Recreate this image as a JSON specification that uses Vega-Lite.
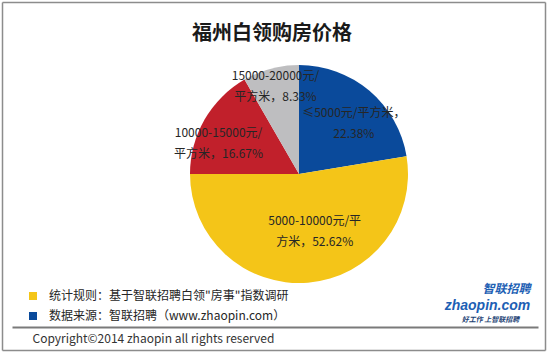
{
  "$schema": "https://vega.github.io/schema/vega-lite/v6.json",
  "width": 492,
  "height": 344,
  "autosize": {"type": "none"},
  "padding": {"left": 53, "top": 2, "right": 5, "bottom": 8},
  "background": "white",
  "config": {"view": {"stroke": null}, "font": "Noto Sans CJK SC"},
  "title": {"text": "福州白领购房价格", "fontSize": 20, "fontWeight": "bold", "font": "Noto Sans CJK SC", "color": "#1a1a1a", "anchor": "middle", "offset": -42, "dx": -27},
  "datasets": {
    "pie": [
      {"range": "≤5000元/平方米", "pct": 22.38, "seq": 1, "label": "≤5000元/平方米，\n22.38%"},
      {"range": "5000-10000元/平方米", "pct": 52.62, "seq": 2, "label": "5000-10000元/平\n方米，52.62%"},
      {"range": "10000-15000元/平方米", "pct": 16.67, "seq": 3, "label": "10000-15000元/\n平方米，16.67%"},
      {"range": "15000-20000元/平方米", "pct": 8.33, "seq": 4, "label": "15000-20000元/\n平方米，8.33%"}
    ],
    "notes": [
      {"note": "统计规则：基于智联招聘白领\"房事\"指数调研"},
      {"note": "数据来源：智联招聘（www.zhaopin.com）"}
    ]
  },
  "layer": [
    {
      "data": {"name": "pie"},
      "mark": {"type": "arc", "outerRadius": 109},
      "encoding": {
        "theta": {"field": "pct", "type": "quantitative", "stack": true},
        "order": {"field": "seq", "type": "quantitative"},
        "color": {"field": "range", "type": "nominal",
          "scale": {"domain": ["≤5000元/平方米", "5000-10000元/平方米", "10000-15000元/平方米", "15000-20000元/平方米"], "range": ["#0A4A9B", "#F4C518", "#C1202B", "#BEBEC0"]},
          "legend": null}
      }
    },
    {
      "data": {"name": "pie"},
      "mark": {"type": "text", "radius": 74, "dx": 7, "dy": -5, "lineBreak": "\n", "lineHeight": 21, "fontSize": 12, "font": "Noto Sans CJK SC", "color": "#262626", "align": "center", "baseline": "middle"},
      "encoding": {
        "theta": {"field": "pct", "type": "quantitative", "stack": true},
        "order": {"field": "seq", "type": "quantitative"},
        "text": {"condition": {"test": "datum.seq === 1", "field": "label", "type": "nominal"}, "value": ""}
      }
    },
    {
      "data": {"name": "pie"},
      "mark": {"type": "text", "radius": 57, "dx": 11, "dy": -10, "lineBreak": "\n", "lineHeight": 21, "fontSize": 12, "font": "Noto Sans CJK SC", "color": "#262626", "align": "center", "baseline": "middle"},
      "encoding": {
        "theta": {"field": "pct", "type": "quantitative", "stack": true},
        "order": {"field": "seq", "type": "quantitative"},
        "text": {"condition": {"test": "datum.seq === 2", "field": "label", "type": "nominal"}, "value": ""}
      }
    },
    {
      "data": {"name": "pie"},
      "mark": {"type": "text", "radius": 86, "dx": -6, "dy": 2, "lineBreak": "\n", "lineHeight": 21, "fontSize": 12, "font": "Noto Sans CJK SC", "color": "#262626", "align": "center", "baseline": "middle"},
      "encoding": {
        "theta": {"field": "pct", "type": "quantitative", "stack": true},
        "order": {"field": "seq", "type": "quantitative"},
        "text": {"condition": {"test": "datum.seq === 3", "field": "label", "type": "nominal"}, "value": ""}
      }
    },
    {
      "data": {"name": "pie"},
      "mark": {"type": "text", "radius": 91, "dx": 0, "dy": -10, "lineBreak": "\n", "lineHeight": 21, "fontSize": 12, "font": "Noto Sans CJK SC", "color": "#262626", "align": "center", "baseline": "middle"},
      "encoding": {
        "theta": {"field": "pct", "type": "quantitative", "stack": true},
        "order": {"field": "seq", "type": "quantitative"},
        "text": {"condition": {"test": "datum.seq === 4", "field": "label", "type": "nominal"}, "value": ""}
      }
    },
    {
      "data": {"name": "pie"},
      "mark": {"type": "text", "text": ""},
      "encoding": {
        "x": {"field": "pct", "type": "quantitative", "scale": {"domain": [0, 100], "range": [-51, 492]},
          "axis": {"orient": "bottom", "offset": 4, "ticks": false, "labels": false, "grid": false, "domainColor": "#8c8c8c", "domainWidth": 1.5, "title": null}},
        "y": {"field": "pct", "type": "quantitative", "scale": {"domain": [0, 100], "range": [348, 0]},
          "axis": {"orient": "left", "offset": 51, "ticks": false, "labels": false, "grid": false, "domainColor": "#8c8c8c", "domainWidth": 1.5,
            "title": "好工作  上智联招聘", "titleX": 488, "titleY": 317, "titleAngle": 0, "titleAlign": "center", "titleBaseline": "middle", "titleFontSize": 7, "titleFontWeight": "bold", "titleFontStyle": "italic", "titleColor": "#1d3f74", "titleFont": "Noto Sans CJK SC"}}
      }
    },
    {
      "data": {"name": "pie"},
      "mark": {"type": "text", "text": ""},
      "encoding": {
        "x": {"field": "pct", "type": "quantitative", "scale": {"domain": [0, 100], "range": [-51, 492]},
          "axis": {"orient": "top", "offset": 0, "ticks": false, "labels": false, "grid": false, "domainColor": "#8c8c8c", "domainWidth": 1.5,
            "title": "zhaopin.com", "titleX": 434, "titleY": 303, "titleAngle": 0, "titleAlign": "center", "titleBaseline": "middle", "titleFontSize": 14, "titleFontWeight": "bold", "titleFontStyle": "italic", "titleColor": "#1d5fb4", "titleFont": "Liberation Sans"}},
        "y": {"field": "pct", "type": "quantitative", "scale": {"domain": [0, 100], "range": [348, 0]},
          "axis": {"orient": "right", "offset": 0, "ticks": false, "labels": false, "grid": false, "domainColor": "#8c8c8c", "domainWidth": 1.5,
            "title": "智联招聘", "titleX": -39, "titleY": 286, "titleAngle": 0, "titleAlign": "center", "titleBaseline": "middle", "titleFontSize": 12, "titleFontWeight": "bold", "titleFontStyle": "italic", "titleColor": "#1d5fb4", "titleFont": "Noto Sans CJK SC"}}
      }
    },
    {
      "data": {"name": "pie"},
      "mark": {"type": "text", "text": ""},
      "encoding": {
        "x": {"field": "pct", "type": "quantitative", "scale": {"domain": [0, 100], "range": [-41, 485]},
          "axis": {"orient": "bottom", "offset": -19, "ticks": false, "labels": false, "grid": false, "domainColor": "#7a7a7a", "domainWidth": 2,
            "title": "Copyright©2014 zhaopin all rights reserved", "titleX": -21, "titleY": 11, "titleAlign": "left", "titleBaseline": "middle", "titleFontSize": 12, "titleFontWeight": "normal", "titleColor": "#333333", "titleFont": "Noto Sans CJK SC"}}
      }
    },
    {
      "data": {"name": "notes"},
      "mark": {"type": "text", "text": ""},
      "encoding": {
        "color": {"field": "note", "type": "nominal",
          "scale": {"domain": ["统计规则：基于智联招聘白领\"房事\"指数调研", "数据来源：智联招聘（www.zhaopin.com）"], "range": ["#F4C518", "#0A4A9B"]},
          "legend": {"orient": "none", "legendX": -26, "legendY": 288, "title": null, "symbolType": "square", "symbolSize": 64, "symbolStrokeWidth": 0, "symbolOpacity": 1, "labelFontSize": 12, "labelFont": "Noto Sans CJK SC", "labelColor": "#262626", "labelLimit": 400, "rowPadding": 8, "labelOffset": 10, "padding": 0}}
      }
    }
  ],
  "resolve": {
    "scale": {"x": "independent", "y": "independent", "color": "independent"},
    "axis": {"x": "independent", "y": "independent"}
  }
}
